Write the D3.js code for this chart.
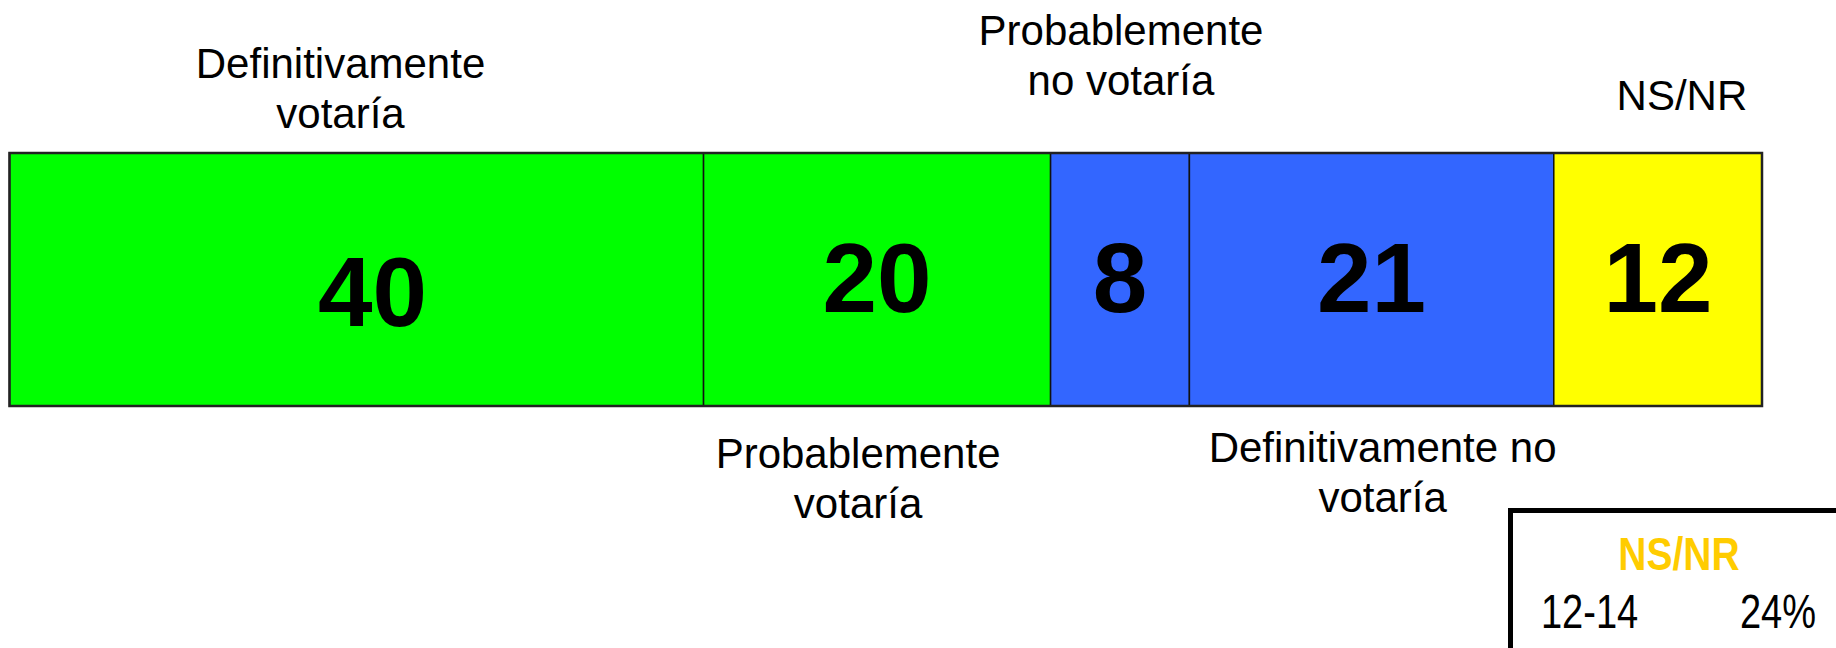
<!DOCTYPE html>
<html>
<head>
<meta charset="utf-8">
<script src="https://cdn.jsdelivr.net/npm/d3@7"></script>
<style>
  body { margin: 0; background: #fff; }
  svg { display: block; font-family: Arial, "Liberation Sans", sans-serif; }
</style>
</head>
<body>
<svg id="chart" width="1836" height="648"></svg>
<script>
// DATA

const categories = ["Definitivamente votaría", "Probablemente votaría", "Probablemente no votaría", "Definitivamente no votaría", "NS/NR"];
const values = [40, 20, 8, 21, 12];
const colors = ["#00ff00", "#00ff00", "#3366ff", "#3366ff", "#ffff00"];
const labelLines = [["Definitivamente", "votaría"], ["Probablemente", "votaría"], ["Probablemente", "no votaría"], ["Definitivamente no", "votaría"], ["NS/NR"]];
const labelSide = ["top", "bottom", "top", "bottom", "top"];

const insetTitle = "NS/NR";
const insetRange = "12-14";
const insetValue = "24%";

// RENDERING

const svg = d3.select("#chart");

const bar_top = 153, bar_bottom = 406;
const total = d3.sum(values);
const x = d3.scaleLinear().domain([0, total]).range([9.5, 1762]);

let acc = 0;
const segs = values.map(function(v, i){
  const s = {name: categories[i], value: v, x0: acc, x1: acc + v, color: colors[i], lines: labelLines[i], side: labelSide[i], idx: i};
  acc += v;
  return s;
});

const bars = svg.append("g");

bars.selectAll("rect")
  .data(segs)
  .enter().append("rect")
    .attr("x", d => x(d.x0))
    .attr("y", bar_top)
    .attr("width", d => x(d.x1) - x(d.x0))
    .attr("height", bar_bottom - bar_top)
    .attr("fill", d => d.color)
    .attr("stroke", "#111")
    .attr("stroke-width", 1.5);

// outer frame a bit heavier
bars.append("rect")
  .attr("x", x(0))
  .attr("y", bar_top)
  .attr("width", x(total) - x(0))
  .attr("height", bar_bottom - bar_top)
  .attr("fill", "none")
  .attr("stroke", "#222")
  .attr("stroke-width", 2.5);

// values inside the bar (the "40" sits a little lower/right in the original)
bars.selectAll("text.value")
  .data(segs)
  .enter().append("text")
    .attr("class", "value")
    .attr("x", d => (x(d.x0) + x(d.x1)) / 2 + (d.idx === 0 ? 16 : 0))
    .attr("y", d => d.idx === 0 ? 326 : 312)
    .attr("text-anchor", "middle")
    .style("font-size", "98px")
    .style("font-weight", "bold")
    .attr("fill", "#000")
    .text(d => d.value);

// category labels above / below
var nudge = [-16, -19, 1, 11, 24];
var first_baseline = {top: [78, null, 45, null, 110], bottom: [null, 468, null, 462, null]};

const labels = svg.append("g");
segs.forEach(function(d){
  var cx = (x(d.x0) + x(d.x1)) / 2 + nudge[d.idx];
  var y0 = first_baseline[d.side][d.idx];
  var t = labels.append("text")
    .attr("text-anchor", "middle")
    .style("font-size", "42px")
    .attr("fill", "#000");
  d.lines.forEach(function(line, j){
    t.append("tspan")
      .attr("x", cx)
      .attr("y", y0 + j * 50)
      .text(line);
  });
});

// inset box bottom right
const inset = svg.append("g");
inset.append("rect")
  .attr("x", 1510.5)
  .attr("y", 510.5)
  .attr("width", 400)
  .attr("height", 200)
  .attr("fill", "#fff")
  .attr("stroke", "#000")
  .attr("stroke-width", 5);

inset.append("text")
  .attr("transform", "translate(1679,570) scale(1,1.18)")
  .attr("text-anchor", "middle")
  .style("font-size", "39px")
  .style("font-weight", "bold")
  .attr("fill", "#ffcc00")
  .text(insetTitle);

inset.append("text")
  .attr("transform", "translate(1541,628) scale(1,1.28)")
  .attr("text-anchor", "start")
  .style("font-size", "38px")
  .attr("fill", "#000")
  .text(insetRange);

inset.append("text")
  .attr("transform", "translate(1816,628) scale(1,1.28)")
  .attr("text-anchor", "end")
  .style("font-size", "38px")
  .attr("fill", "#000")
  .text(insetValue);
</script>
</body>
</html>
